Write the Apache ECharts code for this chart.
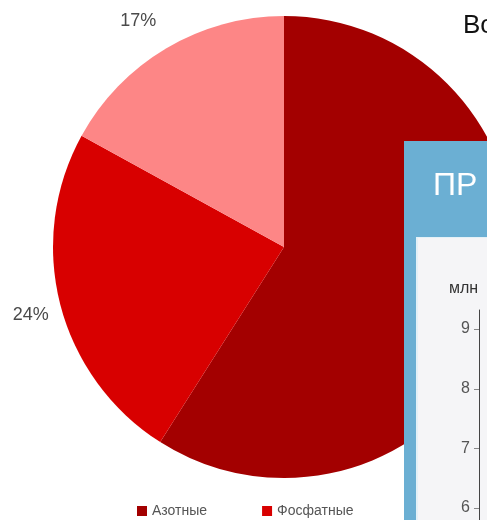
<!DOCTYPE html>
<html>
<head>
<meta charset="utf-8">
<script src="https://cdn.jsdelivr.net/npm/echarts@6/dist/echarts.min.js"></script>
<style>
  html, body { margin: 0; padding: 0; background: #fff; }
  #chart { width: 487px; height: 520px; }
</style>
</head>
<body>
<div id="chart"></div>
<script>
  // доли удобрений, %
  const categories = ['Азотные', 'Фосфатные', 'Калийные']
  const shares = [59, 24, 17]
  const sliceColors = ['#a30000', '#d80000', '#fd8686']

  // ось второй (перекрывающей) диаграммы, млн
  const tickValues = [6, 7, 8, 9]

  const chart = echarts.init(document.getElementById('chart'))

  // сдвиг подписей как на исходной картинке
  const labelShift = [[0, 0], [7, 7], [2, -15]]

  const options = {
    animation: false,
    legend: {
      data: categories,
      left: 132,
      top: 499,
      icon: 'rect',
      itemWidth: 10,
      itemHeight: 10,
      itemGap: 55,
      textStyle: { color: '#555', fontSize: 14, fontFamily: 'Liberation Sans' }
    },
    // скрытая сетка для оси справа
    grid: { left: 479, right: 0, top: 310, bottom: 0 },
    xAxis: { type: 'value', show: false, min: 0, max: 1 },
    yAxis: {
      type: 'value',
      min: 5.8,
      max: 9.32,
      z: 20,
      axisLine: { show: true, lineStyle: { color: '#444', width: 1 } },
      axisTick: { show: true, length: 5, customValues: tickValues, lineStyle: { color: '#888' } },
      axisLabel: {
        customValues: tickValues,
        margin: 9,
        color: '#555',
        fontSize: 16,
        fontFamily: 'Liberation Sans'
      },
      splitLine: { show: false }
    },
    series: [
      {
        type: 'pie',
        center: [284, 247],
        radius: 231,
        startAngle: 90,
        clockwise: true,
        data: categories.map((name, i) => ({
          name: name,
          value: shares[i],
          itemStyle: { color: sliceColors[i] }
        })),
        label: {
          show: true,
          position: 'outside',
          formatter: '{c}%',
          overflow: 'none',
          color: '#4a4a4a',
          fontSize: 18,
          fontFamily: 'Liberation Sans'
        },
        labelLine: { show: false, length: 14, length2: 0 },
        labelLayout: (p) => ({ dx: labelShift[p.dataIndex][0], dy: labelShift[p.dataIndex][1] }),
        emphasis: { disabled: true }
      }
    ],
    graphic: [
      {
        type: 'text',
        left: 463,
        top: 13,
        z: 5,
        style: { text: 'Во', fill: '#111', font: '26px "Liberation Sans"' }
      },
      // синяя панель поверх круга
      {
        type: 'rect',
        z: 10,
        shape: { x: 404, y: 141, width: 83, height: 379 },
        style: { fill: '#6bafd3' }
      },
      {
        type: 'text',
        z: 11,
        left: 433,
        top: 170,
        style: { text: 'ПР', fill: '#fff', font: '32px "Liberation Sans"' }
      },
      {
        type: 'rect',
        z: 11,
        shape: { x: 416, y: 237, width: 71, height: 283 },
        style: { fill: '#e4f1f7' }
      },
      {
        type: 'rect',
        z: 12,
        shape: { x: 418, y: 238, width: 69, height: 282 },
        style: { fill: '#f5f5f7' }
      },
      {
        type: 'text',
        z: 13,
        left: 449,
        top: 281,
        style: { text: 'млн', fill: '#333', font: '16px "Liberation Sans"' }
      }
    ]
  }

  chart.setOption(options)
</script>
</body>
</html>
